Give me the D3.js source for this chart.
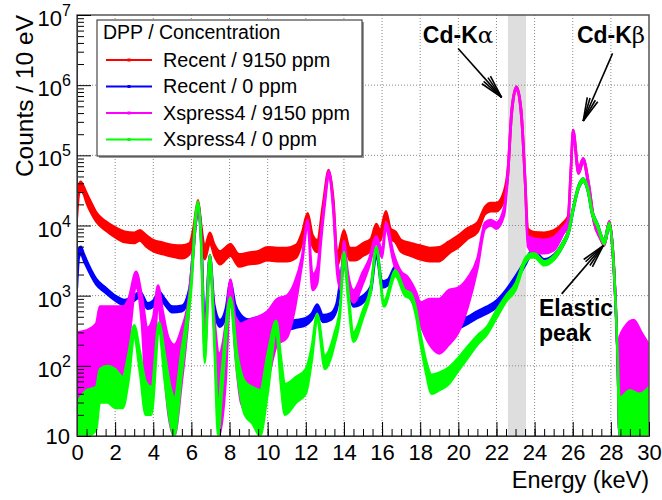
<!DOCTYPE html>
<html>
<head>
<meta charset="utf-8">
<script src="https://cdn.jsdelivr.net/npm/d3@7"></script>
<style>
  body { margin: 0; background: #fff; }
  svg text { font-family: "Liberation Sans", Arial, Helvetica, sans-serif; }
</style>
</head>
<body>
<div id="chart"></div>
<script>
// spectra: [energy (keV), low, high] in counts / 10 eV
var recent9150 = [
  [0.0,1.3e4,2.0e4],[0.1,2.8e4,3.8e4],[0.2,3.2e4,4.2e4],[0.35,2.8e4,3.6e4],[0.5,2.1e4,2.9e4],
  [0.75,1.5e4,2.1e4],[1.0,1.15e4,1.55e4],[1.5,8.5e3,1.15e4],[2.0,6.8e3,9.4e3],[2.5,5.8e3,8.2e3],
  [3.0,5.6e3,7.9e3],[3.3,6.1e3,8.6e3],[3.6,5.1e3,7.4e3],[4.0,4.3e3,6.2e3],[4.5,3.9e3,5.7e3],
  [5.0,3.6e3,5.3e3],[5.5,3.4e3,5.2e3],[5.9,3.9e3,5.6e3],[6.1,7.0e3,9.0e3],[6.25,1.4e4,1.7e4],
  [6.35,1.9e4,2.3e4],[6.5,9.0e3,1.1e4],[6.7,3.3e3,5.0e3],[6.97,5.6e3,7.9e3],[7.2,3.7e3,5.4e3],
  [7.5,2.8e3,4.3e3],[8.05,3.7e3,5.4e3],[8.5,2.6e3,3.9e3],[9.0,2.8e3,4.1e3],[9.5,2.9e3,4.3e3],
  [10.0,3.2e3,4.9e3],[10.5,3.1e3,4.8e3],[11.0,3.1e3,4.8e3],[11.5,3.5e3,5.3e3],[11.8,5.6e3,7.9e3],
  [12.1,1.2e4,1.5e4],[12.35,5.1e3,7.4e3],[12.6,4.2e3,6.2e3],[12.9,1.5e4,2.0e4],[13.2,5.0e4,6.2e4],
  [13.45,1.8e4,2.3e4],[13.65,2.6e3,3.9e3],[14.0,6.1e3,8.6e3],[14.3,3.2e3,4.8e3],[14.6,3.2e3,4.8e3],
  [15.0,3.7e3,5.6e3],[15.4,4.4e3,6.4e3],[15.7,7.5e3,1.05e4],[15.9,6.0e3,8.5e3],[16.2,1.3e4,1.6e4],
  [16.45,6.5e3,9.0e3],[16.7,5.8e3,8.2e3],[17.0,4.2e3,6.2e3],[17.5,3.7e3,5.6e3],[18.0,3.3e3,5.2e3],
  [18.5,3.1e3,4.8e3],[19.0,3.1e3,4.9e3],[19.5,4.0e3,5.9e3],[20.0,4.9e3,7.2e3],[20.5,6.5e3,9.2e3],
  [21.0,8.0e3,1.1e4],[21.4,1.45e4,1.85e4],[21.7,1.6e4,2.1e4],[22.0,1.6e4,2.1e4],[22.4,2.3e4,3.1e4],
  [22.6,5.0e4,6.5e4],[22.8,3.8e5,4.6e5],[23.05,8.5e5,9.5e5],[23.3,3.6e5,4.4e5],[23.5,4.0e4,5.0e4],
  [23.65,6.0e3,9.0e3],[24.0,5.5e3,8.0e3],[24.5,5.3e3,7.9e3],[25.0,5.8e3,8.5e3],[25.5,8.0e3,1.1e4],
  [25.75,1.05e4,1.35e4],[25.9,5.5e4,6.5e4],[26.02,2.0e5,2.3e5],[26.3,5.5e4,6.5e4],[26.55,8.0e4,9.0e4],
  [26.85,3.3e4,3.8e4],[27.1,1.15e4,1.3e4],[27.45,6.5e3,7.5e3],[27.65,5.2e3,6.0e3],[27.92,1.0e4,1.15e4],
  [28.1,4.0e3,4.8e3],[28.25,7.0e2,8.5e2],[28.35,1.4e2,1.7e2],[28.45,10,200],[29.0,10,250],
  [29.5,10,200],[30.0,10,150]
];

var recent0 = [
  [0.0,1.3e3,1.9e3],[0.1,3.5e3,4.6e3],[0.2,4.0e3,5.0e3],[0.35,3.2e3,4.0e3],[0.5,2.6e3,3.2e3],
  [0.75,1.9e3,2.3e3],[1.0,1.45e3,1.75e3],[1.5,1.1e3,1.3e3],[2.0,850,1.0e3],[2.5,730,870],
  [3.0,850,1.0e3],[3.3,950,1.15e3],[3.7,650,780],[4.0,700,850],[4.3,950,1.15e3],
  [4.6,750,900],[5.0,580,700],[5.5,600,720],[5.9,1.0e3,1.3e3],[6.1,4.0e3,5.0e3],
  [6.25,1.2e4,1.5e4],[6.35,1.7e4,2.1e4],[6.5,7.0e3,9.0e3],[6.7,300,400],[6.97,3.0e3,3.8e3],
  [7.2,600,750],[7.5,360,450],[7.8,500,650],[8.05,1.3e3,1.6e3],[8.3,600,750],
  [8.6,420,530],[9.0,360,460],[9.5,400,500],[10.0,420,540],[10.5,360,460],
  [11.0,330,430],[11.5,350,450],[12.0,380,480],[12.3,450,550],[12.6,600,750],
  [12.9,420,530],[13.3,450,560],[13.6,600,750],[13.85,1.5e3,2.0e3],[14.0,3.0e3,3.8e3],
  [14.2,1.5e3,1.9e3],[14.5,700,880],[15.0,800,1.0e3],[15.4,1.1e3,1.35e3],[15.7,3.8e3,4.6e3],
  [16.0,1.3e3,1.6e3],[16.3,1.4e3,1.7e3],[16.7,2.2e3,2.6e3],[17.1,1.2e3,1.45e3],[17.5,900,1.1e3],
  [18.0,500,620],[18.5,340,420],[19.0,300,380],[19.5,320,400],[20.0,340,430],
  [20.5,400,500],[21.0,480,600],[21.5,560,700],[22.0,680,850],[22.5,1.0e3,1.2e3],
  [23.0,1.6e3,1.9e3],[23.5,2.7e3,3.1e3],[23.8,3.7e3,4.2e3],[24.0,3.8e3,4.3e3],[24.5,2.9e3,3.3e3],
  [25.0,3.3e3,3.8e3],[25.5,5.2e3,5.9e3],[25.8,8.0e3,9.0e3],[26.0,1.5e4,1.7e4],[26.3,3.3e4,3.7e4],
  [26.55,4.2e4,4.7e4],[26.8,3.0e4,3.4e4],[27.0,1.5e4,1.7e4],[27.3,9.5e3,1.05e4],[27.65,5.4e3,6.2e3],
  [27.92,9.5e3,1.1e4],[28.1,4.0e3,4.6e3],[28.25,700,800],[28.35,130,160],[28.45,10,40],
  [30.0,10,40]
];

var xspress9150 = [
  [0.0,10,300],[0.5,12,320],[1.0,20,400],[1.2,60,700],[1.6,60,700],
  [2.0,50,700],[2.4,80,700],[2.7,200,900],[3.1,1.3e3,2.2e3],[3.4,400,1.0e3],
  [3.7,20,350],[4.0,60,500],[4.25,800,1.4e3],[4.5,150,600],[4.8,20,250],
  [5.1,10,200],[5.5,60,350],[5.85,500,900],[6.1,4.0e3,5.0e3],[6.25,1.2e4,1.5e4],
  [6.35,1.7e4,2.1e4],[6.5,6.5e3,8.5e3],[6.7,150,300],[6.97,3.0e3,3.8e3],[7.2,300,500],
  [7.45,10,150],[7.8,60,400],[8.05,1.2e3,1.7e3],[8.3,150,500],[8.6,30,400],
  [9.0,20,450],[9.5,20,500],[10.0,60,600],[10.5,200,900],[11.0,250,1.0e3],
  [11.4,600,1.5e3],[11.8,2.8e3,3.6e3],[12.1,1.0e4,1.2e4],[12.35,1.2e3,2.0e3],[12.6,1.5e3,2.5e3],
  [12.8,6.0e3,8.0e3],[13.0,2.0e4,2.6e4],[13.2,5.2e4,6.0e4],[13.45,1.5e4,1.9e4],[13.65,2.0e3,3.0e3],
  [13.85,1.2e3,2.0e3],[14.0,4.5e3,6.0e3],[14.2,1.5e3,2.2e3],[14.5,800,1.2e3],[15.0,1.5e3,2.2e3],
  [15.3,2.5e3,3.2e3],[15.7,5.5e3,7.0e3],[16.0,3.5e3,4.5e3],[16.2,9.0e3,1.1e4],[16.6,3.0e3,4.0e3],
  [17.0,1.5e3,2.2e3],[17.3,1.2e3,1.9e3],[17.8,600,1.1e3],[18.0,400,800],[18.5,200,900],
  [19.0,150,900],[19.5,200,1.2e3],[20.0,300,1.3e3],[20.5,700,1.8e3],[21.0,2.4e3,3.4e3],
  [21.4,9.0e3,1.1e4],[21.7,1.0e4,1.2e4],[22.0,9.0e3,1.1e4],[22.4,1.4e4,1.8e4],[22.6,5.0e4,6.5e4],
  [22.8,3.8e5,4.6e5],[23.05,8.5e5,9.5e5],[23.3,3.6e5,4.4e5],[23.5,4.0e4,5.0e4],[23.65,5.0e3,7.0e3],
  [24.0,4.0e3,6.5e3],[24.5,4.0e3,6.3e3],[25.0,4.4e3,6.8e3],[25.5,7.5e3,9.5e3],[25.75,1.0e4,1.2e4],
  [25.9,5.5e4,6.5e4],[26.02,2.0e5,2.3e5],[26.3,5.5e4,6.5e4],[26.55,8.0e4,9.0e4],[26.85,3.3e4,3.8e4],
  [27.1,1.15e4,1.3e4],[27.45,6.5e3,7.5e3],[27.65,5.2e3,6.0e3],[27.92,1.0e4,1.15e4],[28.1,4.0e3,4.8e3],
  [28.25,700,850],[28.35,140,170],[28.45,10,250],[28.7,10,350],[29.2,10,450],
  [29.6,10,300],[30.0,10,200]
];

var xspress0 = [
  [0.0,10,30],[0.5,10,45],[1.0,12,50],[1.2,30,90],[1.6,30,100],
  [2.0,25,90],[2.4,25,70],[2.7,60,150],[3.0,250,380],[3.3,80,160],
  [3.6,20,60],[3.9,20,50],[4.3,300,420],[4.6,60,150],[4.9,15,50],
  [5.1,10,35],[5.5,80,180],[5.8,400,600],[6.0,1.3e3,1.7e3],[6.2,1.0e4,1.3e4],
  [6.35,1.8e4,2.2e4],[6.5,6.0e3,8.0e3],[6.7,110,180],[6.97,3.0e3,3.8e3],[7.2,200,300],
  [7.4,10,25],[7.6,40,90],[8.05,700,950],[8.4,80,150],[8.8,20,60],
  [9.2,15,50],[9.6,10,45],[10.0,40,150],[10.45,300,440],[10.7,50,130],
  [10.9,20,55],[11.5,30,70],[12.0,40,90],[12.3,110,180],[12.6,430,550],
  [13.0,90,140],[13.5,200,290],[13.8,550,700],[14.0,3.4e3,4.2e3],[14.2,1.0e3,1.4e3],
  [14.5,220,300],[15.0,480,620],[15.4,1.1e3,1.3e3],[15.7,4.2e3,5.0e3],[16.1,700,850],
  [16.7,1.9e3,2.3e3],[17.2,1.0e3,1.2e3],[17.5,900,1.1e3],[17.8,480,620],[18.0,220,300],
  [18.3,80,120],[18.6,40,75],[19.0,45,80],[19.5,55,95],[20.0,85,130],
  [20.5,130,190],[21.0,200,270],[21.5,280,360],[22.0,480,620],[22.5,820,1.0e3],
  [23.0,1.2e3,1.5e3],[23.5,2.9e3,3.4e3],[23.8,3.5e3,4.0e3],[24.0,3.5e3,4.0e3],[24.5,2.7e3,3.1e3],
  [25.0,3.2e3,3.7e3],[25.5,5.2e3,5.9e3],[25.8,8.0e3,9.0e3],[26.0,1.5e4,1.7e4],[26.3,3.3e4,3.7e4],
  [26.55,4.2e4,4.7e4],[26.8,3.0e4,3.4e4],[27.0,1.5e4,1.7e4],[27.3,9.5e3,1.05e4],[27.65,5.4e3,6.2e3],
  [27.92,9.5e3,1.1e4],[28.1,4.0e3,4.6e3],[28.25,700,800],[28.35,130,160],[28.45,10,35],
  [29.0,10,45],[29.5,10,40],[30.0,10,50]
];

var seriesNames = ["Recent / 9150 ppm", "Recent / 0 ppm", "Xspress4 / 9150 ppm", "Xspress4 / 0 ppm"];
var seriesData = [recent9150, recent0, xspress9150, xspress0];
var xTicks = [0, 2, 4, 6, 8, 10, 12, 14, 16, 18, 20, 22, 24, 26, 28, 30];
var yExponents = [1, 2, 3, 4, 5, 6, 7];
var kAlphaBand = [22.6, 23.55];   // shaded window, keV

(function() {

  var initModule, drawGrid, drawSeries, drawAxes, drawLegend, drawNotes, drawArrow,

  colors = ["#ff0000", "#0000ff", "#ff00ff", "#00ff00"],

  stateMap = {
    width  : 662,
    height : 500,
    margin : { top: 15, right: 13, bottom: 64, left: 77 }
  },

  d3Map = {
    svg : null,
    g   : null,
    x   : null,
    y   : null
  };

  drawGrid = function(){
    var g = d3Map.g, x = d3Map.x, y = d3Map.y, h = stateMap.ih, w = stateMap.iw;

    // shaded Cd-Ka window
    g.append("rect")
      .attr("x", x(kAlphaBand[0]))
      .attr("y", 0)
      .attr("width", x(kAlphaBand[1]) - x(kAlphaBand[0]))
      .attr("height", h)
      .attr("fill", "#dedede");

    g.selectAll(".vgrid")
      .data(xTicks.slice(1, -1))
      .enter().append("line")
        .attr("class", "vgrid")
        .attr("x1", function(d){ return x(d); })
        .attr("x2", function(d){ return x(d); })
        .attr("y1", 0).attr("y2", h)
        .attr("stroke", "#888").attr("stroke-dasharray", "1,2");

    g.selectAll(".hgrid")
      .data(yExponents.slice(1, -1))
      .enter().append("line")
        .attr("class", "hgrid")
        .attr("x1", 0).attr("x2", w)
        .attr("y1", function(d){ return y(Math.pow(10, d)); })
        .attr("y2", function(d){ return y(Math.pow(10, d)); })
        .attr("stroke", "#888").attr("stroke-dasharray", "1,2");
  };

  drawSeries = function(){
    var x = d3Map.x, y = d3Map.y;
    var area = d3.area()
      .x(function(d){ return x(d[0]); })
      .y0(function(d){ return y(d[1]); })
      .y1(function(d){ return y(d[2]); })
      .curve(d3.curveMonotoneX);

    d3Map.g.append("g")
      .attr("clip-path", "url(#plotclip)")
      .selectAll("path")
      .data(seriesData)
      .enter().append("path")
        .attr("d", area)
        .attr("fill", function(d, i){ return colors[i]; })
        .attr("stroke", function(d, i){ return colors[i]; })
        .attr("stroke-width", 2.4)
        .attr("stroke-linejoin", "round");
  };

  drawAxes = function(){
    var g = d3Map.g, x = d3Map.x, y = d3Map.y, h = stateMap.ih, w = stateMap.iw;
    var minorX = d3.range(0, 30.01, 0.5);
    var minorY = [];
    yExponents.slice(0, -1).forEach(function(e){
      for (var k = 2; k < 10; k++) minorY.push(k * Math.pow(10, e));
    });

    // frame
    g.append("rect")
      .attr("width", w).attr("height", h)
      .attr("fill", "none").attr("stroke", "#555").attr("stroke-width", 1.5);

    // x axis (ticks inside)
    g.append("g")
      .attr("transform", "translate(0," + h + ")")
      .call(d3.axisBottom(x).tickValues(minorX).tickSize(-7).tickFormat(""))
      .call(function(s){ s.select(".domain").remove(); });

    var xa = g.append("g")
      .attr("transform", "translate(0," + h + ")")
      .call(d3.axisBottom(x).tickValues(xTicks).tickSize(-14).tickPadding(8).tickFormat(d3.format("d")));
    xa.select(".domain").attr("stroke", "#333");
    xa.selectAll("text").attr("font-size", 22).attr("fill", "#000")
      .style("font-family", "'Liberation Sans', Arial, sans-serif");

    // y axis (ticks inside)
    g.append("g")
      .call(d3.axisLeft(y).tickValues(minorY).tickSize(-7).tickFormat(""))
      .call(function(s){ s.select(".domain").remove(); });

    var ya = g.append("g")
      .call(d3.axisLeft(y).tickValues(yExponents.map(function(e){ return Math.pow(10, e); }))
        .tickSize(-14).tickFormat(""));
    ya.select(".domain").attr("stroke", "#333");

    // 10 is written plain, higher decades as 10^n
    var lab = g.selectAll(".ylab")
      .data(yExponents)
      .enter().append("text")
        .attr("class", "ylab")
        .attr("x", function(d){ return d === 1 ? -7 : -6; })
        .attr("y", function(d){ return y(Math.pow(10, d)) + (d === 1 ? 8 : 11); })
        .attr("text-anchor", "end")
        .attr("font-size", 22);
    lab.append("tspan").text("10");
    lab.filter(function(d){ return d > 1; })
      .append("tspan").attr("dy", -10).attr("font-size", 16).text(function(d){ return d; });

    // titles
    g.append("text")
      .attr("x", w).attr("y", h + 52)
      .attr("text-anchor", "end")
      .attr("font-size", 23.5)
      .text("Energy (keV)");

    g.append("text")
      .attr("transform", "translate(-44,0) rotate(-90)")
      .attr("text-anchor", "end")
      .attr("font-size", 24.5)
      .text("Counts / 10 eV");
  };

  drawLegend = function(){
    var lg = d3Map.svg.append("g").attr("transform", "translate(97,20)");
    lg.append("rect")
      .attr("x", 2).attr("y", 2).attr("width", 265).attr("height", 136)
      .attr("fill", "#999");
    lg.append("rect")
      .attr("width", 265).attr("height", 136)
      .attr("fill", "#fff").attr("stroke", "#222").attr("stroke-width", 1);
    lg.append("text")
      .attr("x", 6).attr("y", 19)
      .attr("font-size", 19.5)
      .text("DPP / Concentration");

    var item = lg.selectAll(".item")
      .data(seriesNames)
      .enter().append("g")
        .attr("class", "item")
        .attr("transform", function(d, i){ return "translate(0," + (40 + i * 26.5) + ")"; });
    item.append("line")
      .attr("x1", 9).attr("x2", 55)
      .attr("stroke", function(d, i){ return colors[i]; })
      .attr("stroke-width", 2);
    item.append("rect")
      .attr("x", 30.5).attr("y", -1.5).attr("width", 3).attr("height", 3)
      .attr("fill", function(d, i){ return colors[i]; });
    item.append("text")
      .attr("x", 66).attr("y", 6.5)
      .attr("font-size", 19.8)
      .text(function(d){ return d; });
  };

  drawArrow = function(a){
    var x = d3Map.x, y = d3Map.y;
    var x1 = x(a.from[0]), y1 = y(a.from[1]), x2 = x(a.to[0]), y2 = y(a.to[1]);
    var ang = Math.atan2(y2 - y1, x2 - x1), len = 24, spread = 0.24;
    var g = d3Map.g.append("g").attr("stroke", "#000").attr("stroke-width", 1.6).attr("fill", "none");
    g.append("line").attr("x1", x1).attr("y1", y1).attr("x2", x2).attr("y2", y2);
    [-spread, -spread / 2, spread / 2, spread].forEach(function(s){
      g.append("line")
        .attr("x1", x2).attr("y1", y2)
        .attr("x2", x2 - len * Math.cos(ang + s))
        .attr("y2", y2 - len * Math.sin(ang + s));
    });
  };

  drawNotes = function(){
    var x = d3Map.x, y = d3Map.y, g = d3Map.g;
    var labels = [
      { at: [18.14, 4.0e6], main: "Cd-K", greek: "\u03b1" },
      { at: [26.22, 4.0e6], main: "Cd-K", greek: "\u03b2" },
      { at: [24.23, 518], main: "Elastic", greek: "" },
      { at: [24.23, 228], main: "peak", greek: "" }
    ];
    var t = g.selectAll(".note")
      .data(labels)
      .enter().append("text")
        .attr("class", "note")
        .attr("x", function(d){ return x(d.at[0]); })
        .attr("y", function(d){ return y(d.at[1]); })
        .attr("font-size", 23)
        .attr("font-weight", "bold");
    t.append("tspan").text(function(d){ return d.main; });
    t.append("tspan")
      .attr("font-weight", "normal")
      .style("font-family", "'DejaVu Serif', serif")
      .text(function(d){ return d.greek; });

    [
      { from: [19.99, 3.34e6], to: [22.27, 6.7e5] },
      { from: [28.09, 2.84e6], to: [26.55, 3.09e5] },
      { from: [25.42, 1.06e3], to: [27.6, 5.18e3] }
    ].forEach(drawArrow);
  };

  initModule = function(){
    var m = stateMap.margin;
    stateMap.iw = stateMap.width - m.left - m.right;
    stateMap.ih = stateMap.height - m.top - m.bottom;

    d3Map.svg = d3.select("#chart").append("svg")
      .attr("width", stateMap.width)
      .attr("height", stateMap.height);

    d3Map.g = d3Map.svg.append("g")
      .attr("transform", "translate(" + m.left + "," + m.top + ")");

    d3Map.svg.append("defs").append("clipPath").attr("id", "plotclip")
      .append("rect").attr("width", stateMap.iw).attr("height", stateMap.ih);

    d3Map.x = d3.scaleLinear().domain([0, 30]).range([0, stateMap.iw]);
    d3Map.y = d3.scaleLog().domain([10, 1e7]).range([stateMap.ih, 0]);

    drawGrid();
    drawSeries();
    drawAxes();
    drawLegend();
    drawNotes();
  };

  initModule();

}());
</script>
</body>
</html>
